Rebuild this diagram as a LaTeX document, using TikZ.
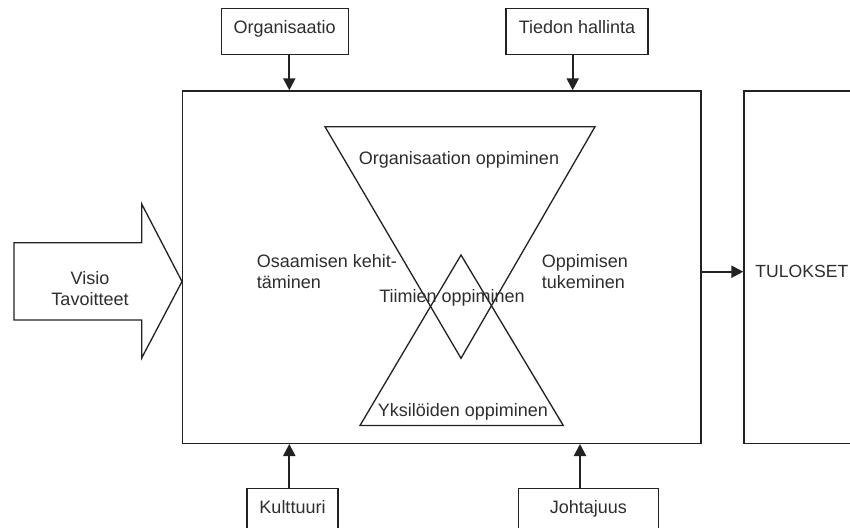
\documentclass[tikz,border=0pt]{standalone}
\usepackage{fontspec}
\setmainfont{Liberation Sans}
\usetikzlibrary{arrows.meta}
\definecolor{ink}{HTML}{222222}
\definecolor{txt}{HTML}{2E2E2E}
\begin{document}
\begin{tikzpicture}[x=1pt,y=-1pt,
  every node/.style={font=\fontsize{18}{20.5}\selectfont, text=txt},
  boxline/.style={draw=ink, line width=1.4pt, rectangle, inner sep=0pt},
  sidebox/.style={boxline, text height=13pt, text depth=9pt, minimum height=45.5pt},
  flow/.style={draw=ink, line width=2.2pt, -{Triangle[length=12pt,width=12pt]}},
  shapeline/.style={draw=ink, line width=1.3pt, line join=miter},
  lbl/.style={inner sep=0pt}]
\useasboundingbox (0,0) rectangle (850,527);
\clip (0,0) rectangle (850,527);
\fill[white] (0,0) rectangle (850,527);

% main frame and results box
\node[boxline, minimum width=518.3pt, minimum height=352.3pt] (main) at (441.85,267.15) {};
\node[boxline, minimum width=160pt, minimum height=352.3pt, anchor=west] (tulos) at (743.3,267.15) {};
\node[lbl, anchor=east, font=\fontsize{17.6}{20.5}\selectfont] (tulostxt) at (848.5,271.7) {TULOKSET};

% side boxes
\node[sidebox, minimum width=127pt] (org) at (284.7,31.5) {Organisaatio};
\node[sidebox, minimum width=142pt] (tieto) at (577,31.5) {Tiedon hallinta};
\node[sidebox, minimum width=91pt] (kult) at (292.5,511) {Kulttuuri};
\node[sidebox, minimum width=140pt] (joht) at (588.3,511) {Johtajuus};

% arrows
\draw[flow] ([xshift=4.6pt]org.south) -- ([xshift=4.6pt]org.south |- main.north);
\draw[flow] ([xshift=-4.3pt]tieto.south) -- ([xshift=-4.3pt]tieto.south |- main.north);
\draw[flow] ([xshift=-3.2pt]kult.north) -- ([xshift=-3.2pt]kult.north |- main.south);
\draw[flow] ([xshift=-8.3pt]joht.north) -- ([xshift=-8.3pt]joht.north |- main.south);
\coordinate (rarrow) at (0,271.7);
\draw[flow] (main.east |- rarrow) -- (tulos.west |- rarrow);

% big input arrow
\coordinate (aTip) at (main.west |- 0,281.5);
\draw[shapeline] (14,242.7) -- (141.7,242.7) -- (141.7,204) -- (aTip)
  -- (141.7,358) -- (141.7,320) -- (14,320) -- cycle;
\node[lbl, align=center] (visio) at (90,288.5) {Visio\\Tavoitteet};

% triangles
\coordinate (oA) at (325,126.7);
\coordinate (oB) at (595,126.7);
\coordinate (oC) at (461,358.3);
\coordinate (uA) at (360,425.5);
\coordinate (uB) at (563.3,425.5);
\coordinate (uC) at (461,255);
\draw[shapeline] (oA) -- (oB) -- (oC) -- cycle;
\draw[shapeline] (uA) -- (uB) -- (uC) -- cycle;

% labels
\node[lbl] (orgopp) at (459,160) {Organisaation oppiminen};
\node[lbl] (tiimi) at (452,298) {Tiimien oppiminen};
\node[lbl] (yks) at (463,411.7) {Yksilöiden oppiminen};
\node[lbl, anchor=west, align=left] (osaam) at (256.7,271.8) {Osaamisen kehit-\\täminen};
\node[lbl, anchor=west, align=left] (tuki) at (541.7,271.8) {Oppimisen\\tukeminen};
\end{tikzpicture}
\end{document}
